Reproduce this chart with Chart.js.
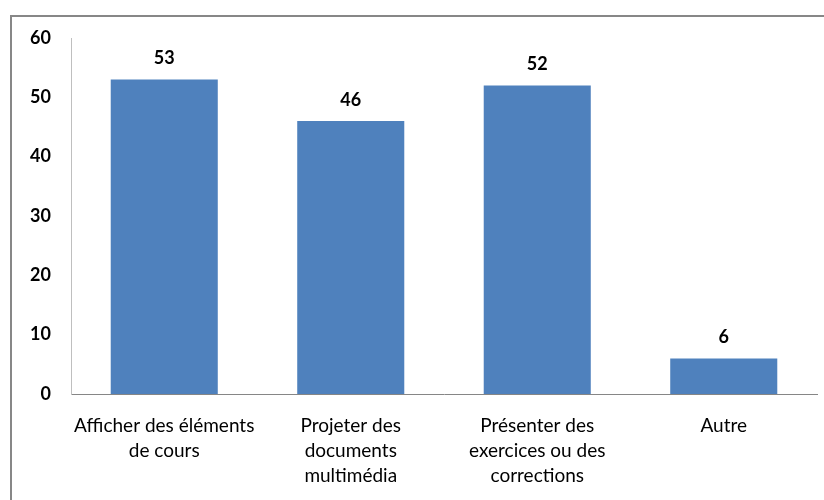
<html>
<head>
    <meta charset="utf-8">
    <script src="https://cdn.jsdelivr.net/npm/chart.js@4.4.0/dist/chart.umd.min.js"></script>
    <style>
        body { margin: 0; background: #fff; }
        #wrap { width: 824px; height: 500px; }
    </style>
</head>
<body>
<div id="wrap"><canvas id="myChart" width="824" height="500"></canvas></div>

<script>
    const categories = [
        ['Afficher des éléments', 'de cours'],
        ['Projeter des', 'documents', 'multimédia'],
        ['Présenter des', 'exercices ou des', 'corrections'],
        ['Autre']
    ];
    const values = [53, 46, 52, 6];
    const yTicks = [0, 10, 20, 30, 40, 50, 60];

    const fontFam = "Lato, 'Open Sans', sans-serif";

    // outer frame like the excel chart area
    const framePlugin = {
        id: 'frame',
        beforeDraw(chart) {
            const c = chart.ctx;
            c.save();
            c.strokeStyle = '#878787';
            c.lineWidth = 2;
            c.beginPath();
            c.moveTo(11, 500);
            c.lineTo(11, 16);
            c.lineTo(824, 16);
            c.stroke();
            c.restore();
        }
    };

    // value labels over each bar
    const labelPlugin = {
        id: 'barLabels',
        afterDatasetsDraw(chart) {
            const c = chart.ctx;
            const meta = chart.getDatasetMeta(0);
            c.save();
            c.font = 'bold 18px ' + fontFam;
            c.fillStyle = '#000';
            c.textAlign = 'center';
            c.textBaseline = 'middle';
            meta.data.forEach((bar, i) => {
                c.fillText(values[i], bar.x, bar.y - 21);
            });
            c.restore();
        }
    };

    const ctx = document.getElementById('myChart').getContext('2d');
    new Chart(ctx, {
        type: 'bar',
        data: {
            labels: categories,
            datasets: [{
                data: values,
                backgroundColor: '#4F81BD',
                categoryPercentage: 1,
                barPercentage: 0.574
            }]
        },
        options: {
            responsive: false,
            animation: false,
            layout: { padding: { left: 10, top: 38, right: 7, bottom: 0 } },
            plugins: { legend: { display: false }, tooltip: { enabled: false } },
            scales: {
                x: {
                    grid: { display: false },
                    border: { display: true, color: '#868686', width: 1 },
                    ticks: {
                        color: '#000',
                        padding: 12,
                        maxRotation: 0,
                        autoSkip: false,
                        font: { family: fontFam, size: 19, lineHeight: 1.3 }
                    },
                    afterFit(scale) { scale.height = 106; }
                },
                y: {
                    min: 0,
                    max: 60,
                    grid: { display: false },
                    border: { display: true, color: '#BFBFBF', width: 1 },
                    afterBuildTicks(scale) {
                        scale.ticks = yTicks.map(v => ({ value: v }));
                    },
                    ticks: {
                        color: '#000',
                        padding: 12,
                        font: { family: fontFam, size: 18, weight: 'bold' }
                    },
                    afterFit(scale) { scale.width = 61; }
                }
            }
        },
        plugins: [framePlugin, labelPlugin]
    });
</script>
</body>
</html>
